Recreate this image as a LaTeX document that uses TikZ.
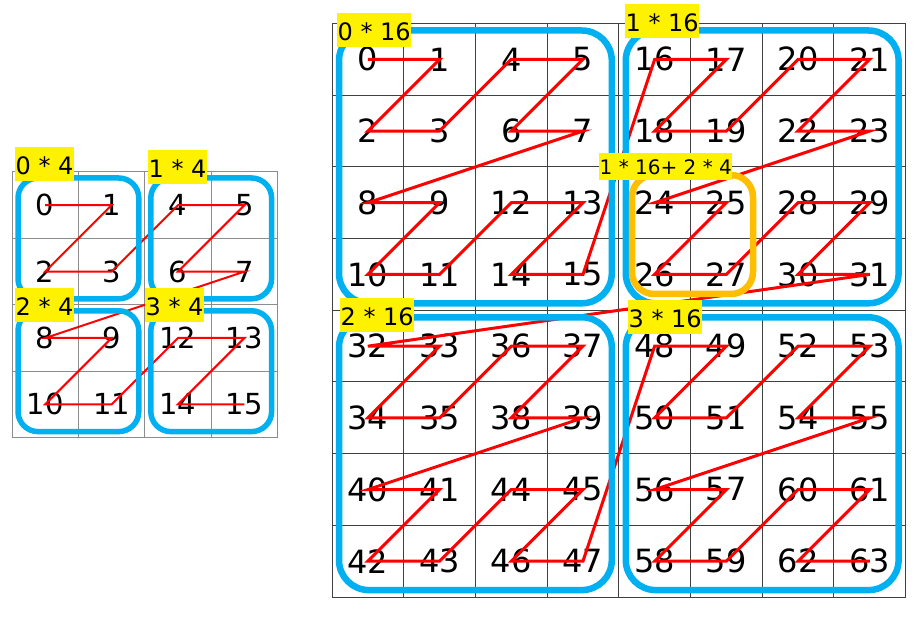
\documentclass[tikz,border=0pt]{standalone}
\usepackage{fontspec}
\setmainfont{DejaVu Sans}
\definecolor{boxblue}{RGB}{0,176,240}
\definecolor{boxorange}{RGB}{255,190,0}

\begin{document}
\begin{tikzpicture}[x=1pt,y=-1pt,
    biggrid/.style={draw=black!75,line width=1pt},
    smallgrid/.style={draw=black!45,line width=1pt},
    bignum/.style={inner sep=0pt,font=\fontsize{32}{36}\selectfont},
    smallnum/.style={inner sep=0pt,font=\fontsize{29}{33}\selectfont},
    zline/.style={draw=red,line width=3pt},
    zlinesmall/.style={draw=red,line width=2pt},
    bluebox/.style={draw=boxblue,line width=6.5pt,rounded corners=30pt},
    smallbox/.style={draw=boxblue,line width=5.5pt,rounded corners=20pt},
    orangebox/.style={draw=boxorange,line width=6.5pt,rounded corners=22pt},
    tag/.style={fill=yellow,inner xsep=0.5pt,inner ysep=0pt,anchor=north west,
      font=\fontsize{24}{28}\selectfont,text height=27pt,text depth=7pt},
    smalltag/.style={tag,font=\fontsize{20}{24}\selectfont,text height=21pt,text depth=5.5pt}]
  \useasboundingbox (0,0) rectangle (914,617);

  % small 4x4 grid
  \foreach \k in {0,...,4} {
    \draw[smallgrid] ({12+\k*66.4},172) -- ++(0,265.6);
    \draw[smallgrid] (12,{172+\k*66.4}) -- ++(265.6,0);
  }
  % large 8x8 grid
  \foreach \k in {0,...,8} {
    \draw[biggrid] ({332+\k*71.7},23.5) -- ++(0,573.6);
    \draw[biggrid] (332,{23.5+\k*71.7}) -- ++(573.6,0);
  }

  % cell numbers in z-order
  \foreach \i in {0,...,15} {
    \pgfmathtruncatemacro\zc{mod(\i,2)+2*mod(int(\i/4),2)}
    \pgfmathtruncatemacro\zr{mod(int(\i/2),2)+2*mod(int(\i/8),2)}
    \node[smallnum] (s\i) at ({12+(\zc+0.5)*66.4},{172+(\zr+0.5)*66.4}) {\i};
  }
  \foreach \i in {0,...,63} {
    \pgfmathtruncatemacro\zc{mod(\i,2)+2*mod(int(\i/4),2)+4*mod(int(\i/16),2)}
    \pgfmathtruncatemacro\zr{mod(int(\i/2),2)+2*mod(int(\i/8),2)+4*mod(int(\i/32),2)}
    \node[bignum] (b\i) at ({332+(\zc+0.5)*71.7},{23.5+(\zr+0.5)*71.7}) {\i};
  }

  % z curves
  \draw[zlinesmall] (s0.center) \foreach \i in {1,...,15} { -- (s\i.center) };
  \draw[zline] (b0.center) \foreach \i in {1,...,63} { -- (b\i.center) };

  % blocks
  \foreach \qx/\qy in {0/0,1/0,0/1,1/1} {
    \draw[smallbox] ({12+\qx*132.8+6},{172+\qy*132.8+6}) rectangle ++(120.8,120.8);
    \draw[bluebox] ({332+\qx*286.8+7},{23.5+\qy*286.8+7}) rectangle ++(272.8,272.8);
  }
  \draw[orangebox] (632,175) rectangle (753,294);

  % offsets
  \node[tag] (t0) at (15,147) {0 * 4};
  \node[tag] (t1) at (148,150) {1 * 4};
  \node[tag] (t2) at (15,288) {2 * 4};
  \node[tag] (t3) at (145,288) {3 * 4};
  \node[tag] (T0) at (337,13) {0 * 16};
  \node[tag] (T1) at (625,4) {1 * 16};
  \node[tag] (T2) at (340,298) {2 * 16};
  \node[tag] (T3) at (628,300) {3 * 16};
  \node[smalltag] (T12) at (599,153) {1 * 16+ 2 * 4};
\end{tikzpicture}
\end{document}
